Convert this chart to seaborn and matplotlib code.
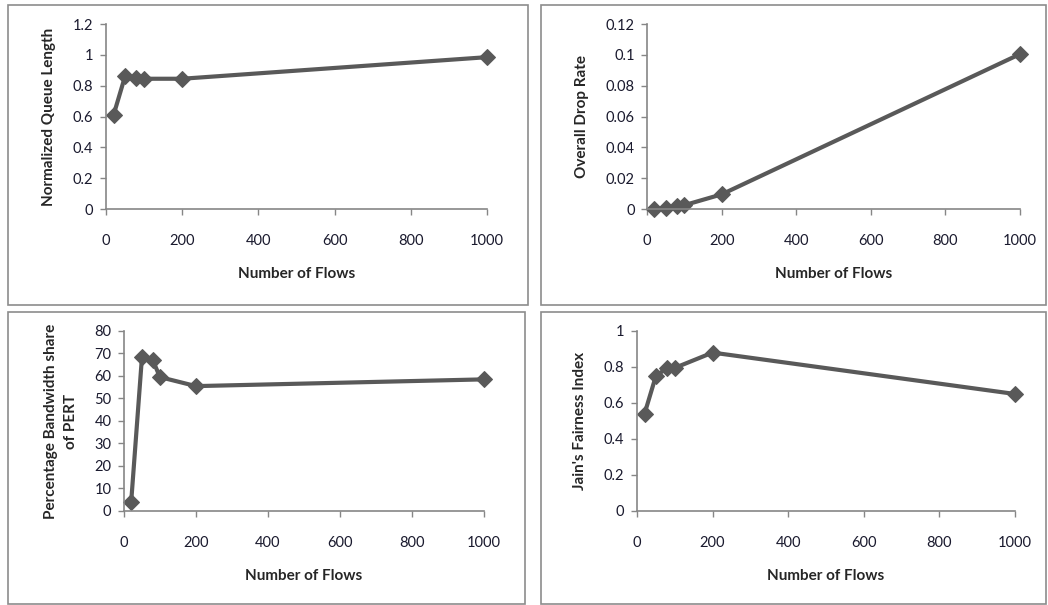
import matplotlib
matplotlib.use("Agg")
import matplotlib.pyplot as plt
import seaborn as sns
import pandas as pd
from matplotlib.patches import Rectangle

# ------ DATA ------ #

flows = [20, 50, 80, 100, 200, 1000]
queue_length = [0.61, 0.86, 0.85, 0.845, 0.845, 0.985]
drop_rate = [0.0, 0.0005, 0.002, 0.0025, 0.0095, 0.1005]
bw_share = [4, 68.5, 67, 59.5, 55.5, 58.5]
fairness = [0.54, 0.75, 0.795, 0.795, 0.88, 0.65]

x_ticks = [0, 200, 400, 600, 800, 1000]

panels = [
    # values, ylabel, ylim, yticks, tick labels, axes rect
    (queue_length, "Normalized Queue Length", (0, 1.2),
     [0, 0.2, 0.4, 0.6, 0.8, 1.0, 1.2], ["0", "0.2", "0.4", "0.6", "0.8", "1", "1.2"],
     [0.1011, 0.6545, 0.3635, 0.3058]),
    (drop_rate, "Overall Drop Rate", (0, 0.12),
     [0, 0.02, 0.04, 0.06, 0.08, 0.1, 0.12], ["0", "0.02", "0.04", "0.06", "0.08", "0.1", "0.12"],
     [0.6174, 0.6545, 0.3559, 0.3058]),
    (bw_share, "Percentage Bandwidth share\nof PERT", (0, 80),
     [0, 10, 20, 30, 40, 50, 60, 70, 80], ["0", "10", "20", "30", "40", "50", "60", "70", "80"],
     [0.1183, 0.1554, 0.3435, 0.2975]),
    (fairness, "Jain's Fairness Index", (0, 1),
     [0, 0.2, 0.4, 0.6, 0.8, 1.0], ["0", "0.2", "0.4", "0.6", "0.8", "1"],
     [0.6078, 0.1554, 0.3607, 0.2975]),
]

# ------ STYLE ------ #

sns.set_style("white")
plt.rcParams["font.family"] = ["Lato", "DejaVu Sans"]

fig = plt.figure(figsize=(10.48, 6.05), dpi=100)

# chart frames, Excel style
W, H = 1048, 605
for (x0, y0, x1, y1) in [(8, 5, 528, 305), (541, 5, 1046, 305),
                         (8, 312, 525, 604), (541, 312, 1046, 604)]:
    fig.patches.append(Rectangle((x0 / W, 1 - y1 / H), (x1 - x0) / W, (y1 - y0) / H,
                                 transform=fig.transFigure, fill=False,
                                 edgecolor="#8c8c8c", linewidth=1.2))

line_color = "#595959"

for values, ylabel, ylim, yticks, ylabels, rect in panels:
    ax = fig.add_axes(rect)
    df = pd.DataFrame({"flows": flows, "value": values})
    sns.lineplot(data=df, x="flows", y="value", ax=ax, color=line_color,
                 linewidth=3, marker="D", markersize=8, markeredgecolor=line_color,
                 clip_on=False)
    ax.set_xlim(0, 1000)
    ax.set_ylim(*ylim)
    ax.set_xticks(x_ticks)
    ax.set_yticks(yticks)
    ax.set_yticklabels(ylabels)
    ax.set_xlabel("Number of Flows", fontsize=11, fontweight="bold", labelpad=14)
    ax.set_ylabel(ylabel, fontsize=11, fontweight="bold", labelpad=12, linespacing=1.5)
    for side in ["top", "right"]:
        ax.spines[side].set_visible(False)
    for side in ["left", "bottom"]:
        ax.spines[side].set_color("#868686")
        ax.spines[side].set_linewidth(1.2)
    ax.tick_params(axis="both", direction="out", length=4, width=1, color="#868686",
                   labelsize=10.5, labelcolor="#1a1a2e", pad=5, left=True, bottom=True)
    ax.tick_params(axis="x", pad=14)

fig.savefig("out.png", dpi=100)
